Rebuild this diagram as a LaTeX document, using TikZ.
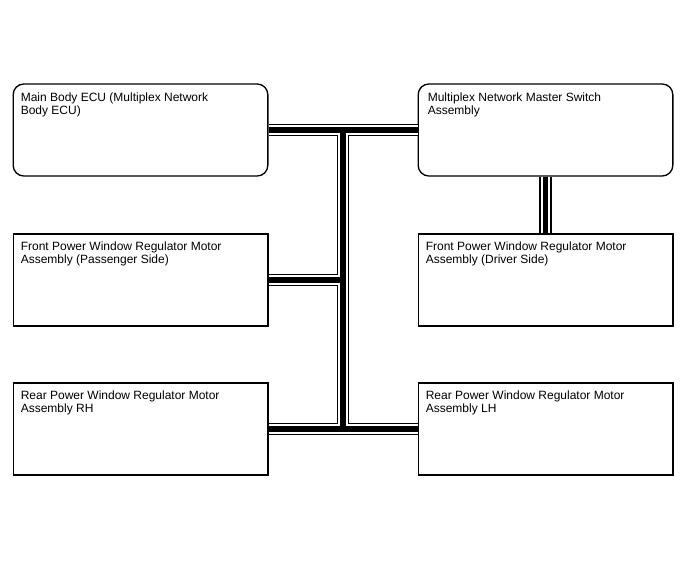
\documentclass[tikz,border=0pt]{standalone}
\usepackage{fontspec}
\setmainfont{Liberation Sans}
\usepackage{tikz}
\usetikzlibrary{calc,positioning}
% the three strokes of one bus line: outline, gap, core
\newcommand{\buspaths}[1]{%
  \draw[#1] (ecu.east) -- (msw.west);
  \draw[#1] (jtop) -- (jbot);
  \draw[#1] (fpass.east) -- (fpass.east -| jtop);
  \draw[#1] (rrh.east) -- (rlh.west);
  \draw[#1] (msw.south) -- (fdrv.north);
}

\begin{document}
\begin{tikzpicture}[x=0.75pt,y=-0.75pt,font=\fontsize{9}{10.2}\selectfont,
  unitbox/.style={draw,line width=1pt,minimum width=191pt,minimum height=69pt,inner sep=0pt},
  roundbox/.style={unitbox,rounded corners=8pt},
  boxtext/.style={anchor=north west,inner sep=0pt,align=left},
  busouter/.style={line width=9.4pt,black},
  busgap/.style={line width=7.4pt,white},
  buscore/.style={line width=3.8pt,black}]
\useasboundingbox (0,0) rectangle (688,560);
% left column
\node[roundbox] (ecu) at (140.5,130) {};
\node[unitbox] (fpass) at (140.5,280) {};
\node[unitbox] (rrh) at (140.5,429) {};
% right column
\node[roundbox] (msw) at (545.5,130) {};
\node[unitbox] (fdrv) at (545.5,280) {};
\node[unitbox] (rlh) at (545.5,429) {};
% trunk of the bus
\coordinate (jtop) at (343,130);
\coordinate (jbot) at (343,429);
\buspaths{busouter}
\buspaths{busgap}
\buspaths{buscore}
% texts
\node[boxtext] (ecut) at ($(ecu.north west)+(8,9)$) {Main Body ECU (Multiplex Network\\Body ECU)};
\node[boxtext] (fpasst) at ($(fpass.north west)+(8,8)$) {Front Power Window Regulator Motor\\Assembly (Passenger Side)};
\node[boxtext] (rrht) at ($(rrh.north west)+(8,8)$) {Rear Power Window Regulator Motor\\Assembly RH};
\node[boxtext] (mswt) at ($(msw.north west)+(10,9)$) {Multiplex Network Master Switch\\Assembly};
\node[boxtext] (fdrvt) at ($(fdrv.north west)+(8,8)$) {Front Power Window Regulator Motor\\Assembly (Driver Side)};
\node[boxtext] (rlht) at ($(rlh.north west)+(8,8)$) {Rear Power Window Regulator Motor\\Assembly LH};
\end{tikzpicture}
\end{document}
